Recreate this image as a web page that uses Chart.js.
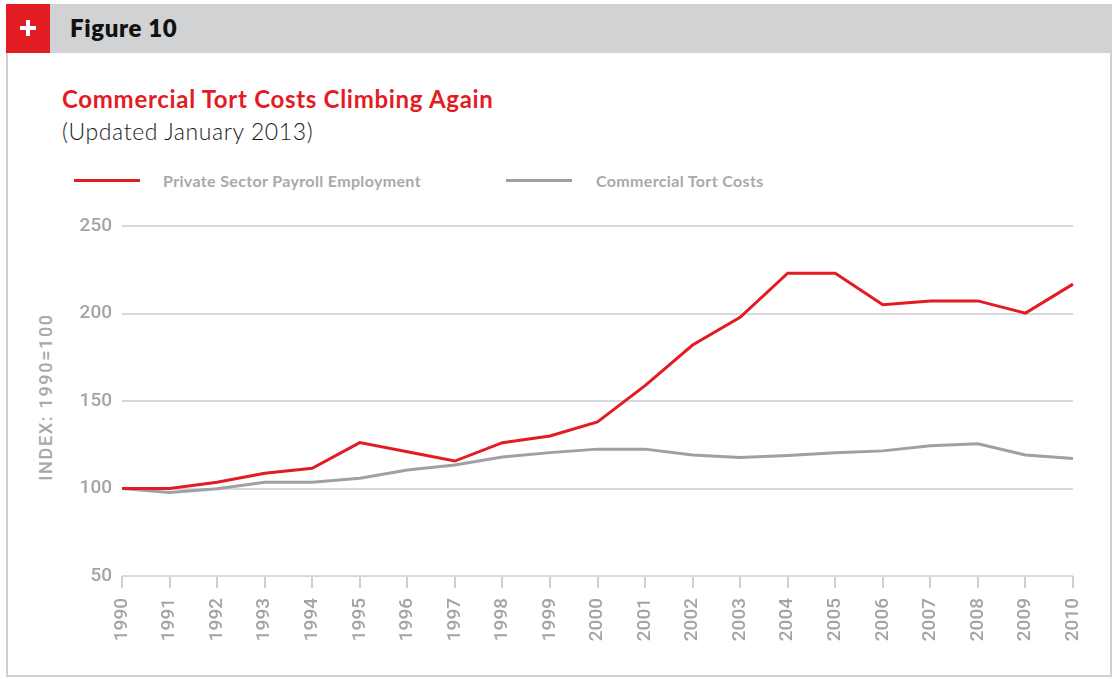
<!DOCTYPE html>
<html>
<head>
<meta charset="utf-8">
<script src="https://cdn.jsdelivr.net/npm/chart.js@4"></script>
<style>
  html, body { margin: 0; padding: 0; background: #fff; }
  body { width: 1112px; height: 679px; position: relative; overflow: hidden; font-family: Lato, "Open Sans", sans-serif; }
  .header { position: absolute; left: 6px; top: 4px; width: 1106px; height: 49px; background: #d1d2d4; }
  .badge { position: absolute; left: 6px; top: 4px; width: 44px; height: 49px; background: #e31b23; }
  .badge:before { content: ""; position: absolute; left: 14px; top: 22px; width: 16px; height: 4px; background: #fff; }
  .badge:after { content: ""; position: absolute; left: 20px; top: 16px; width: 4px; height: 16px; background: #fff; }
  .fig { position: absolute; left: 70px; top: 13px; font-size: 24px; font-weight: 800; letter-spacing: 0.6px; color: #111; }
  .frame { position: absolute; left: 6px; top: 53px; width: 1102px; height: 622px; border: 2px solid #cfcfd1; border-top: none; }
  .title { position: absolute; left: 62px; top: 84px; font-size: 24px; font-weight: 700; letter-spacing: 0.7px; color: #e31b23; white-space: nowrap; }
  .sub { position: absolute; left: 62px; top: 117px; font-size: 23px; font-weight: 300; letter-spacing: 0.6px; color: #1a1a1a; white-space: nowrap; }
  .leg { position: absolute; top: 171px; font-size: 16px; font-weight: 700; letter-spacing: 0.35px; color: #a7a9ac; white-space: nowrap; }
  .legline { position: absolute; top: 179px; width: 66px; height: 3px; }
  .ytitle { position: absolute; left: 45px; top: 397px; transform: translate(-50%, -50%) rotate(-90deg);
            font-family: Roboto, "Liberation Sans", sans-serif; font-weight: 500; font-size: 18px; letter-spacing: 1.7px; color: #a7a9ac; white-space: nowrap; }
  canvas { position: absolute; left: 0; top: 200px; }
</style>
</head>
<body>
<div class="header"></div>
<div class="badge"></div>
<div class="fig">Figure 10</div>
<div class="frame"></div>
<div class="title">Commercial Tort Costs Climbing Again</div>
<div class="sub">(Updated January 2013)</div>
<div class="legline" style="left:74px;background:#e31b23"></div>
<div class="leg" style="left:163px">Private Sector Payroll Employment</div>
<div class="legline" style="left:506px;background:#a0a0a4"></div>
<div class="leg" style="left:596px">Commercial Tort Costs</div>
<div class="ytitle">INDEX: 1990=100</div>
<canvas id="c" width="1112" height="476"></canvas>
<script>
// Years on the horizontal axis
const years = ["1990","1991","1992","1993","1994","1995","1996","1997","1998","1999","2000",
               "2001","2002","2003","2004","2005","2006","2007","2008","2009","2010"];

// Private sector payroll employment index (1990 = 100)
const payroll = [100, 100, 103.6, 108.7, 111.6, 126.2, 121, 115.7, 126.2, 130, 138,
                 158.8, 182, 197.8, 223, 223, 205, 207.2, 207.2, 200.2, 216.8];

// Commercial tort costs index (1990 = 100)
const tort = [100, 97.7, 99.8, 103.6, 103.6, 105.8, 110.6, 113.4, 118, 120.5, 122.5,
              122.5, 119.2, 117.7, 118.9, 120.4, 121.5, 124.4, 125.5, 119.2, 117.1];

// Y axis range and step
const yMin = 50, yMax = 250, yStep = 50;

const tickFont = { family: 'Roboto, "Liberation Sans", sans-serif', size: 19, weight: '500' };
const tickColor = '#a3a4a8';

new Chart(document.getElementById('c'), {
  type: 'line',
  data: {
    labels: years,
    datasets: [
      { label: 'Private Sector Payroll Employment', data: payroll, borderColor: '#e31b23',
        borderWidth: 3, pointRadius: 0, tension: 0, fill: false },
      { label: 'Commercial Tort Costs', data: tort, borderColor: '#a0a0a4',
        borderWidth: 3, pointRadius: 0, tension: 0, fill: false }
    ]
  },
  options: {
    responsive: false,
    animation: false,
    layout: { padding: { left: 0, right: 39, top: 26, bottom: 0 } },
    plugins: { legend: { display: false }, tooltip: { enabled: false } },
    scales: {
      x: {
        offset: false,
        grid: { drawOnChartArea: false, drawTicks: true, tickLength: 12, color: '#cfcfd1', lineWidth: 2 },
        border: { display: false },
        ticks: { minRotation: 90, maxRotation: 90, padding: 10, font: tickFont, color: tickColor, autoSkip: false },
        afterFit(s) { s.height = 100; }
      },
      y: {
        min: yMin, max: yMax,
        ticks: { stepSize: yStep, padding: 10, font: tickFont, color: tickColor },
        grid: { color: '#d9d9db', lineWidth: 2, drawTicks: false },
        border: { display: false },
        afterFit(s) { s.width = 122; }
      }
    }
  }
});
</script>
</body>
</html>
